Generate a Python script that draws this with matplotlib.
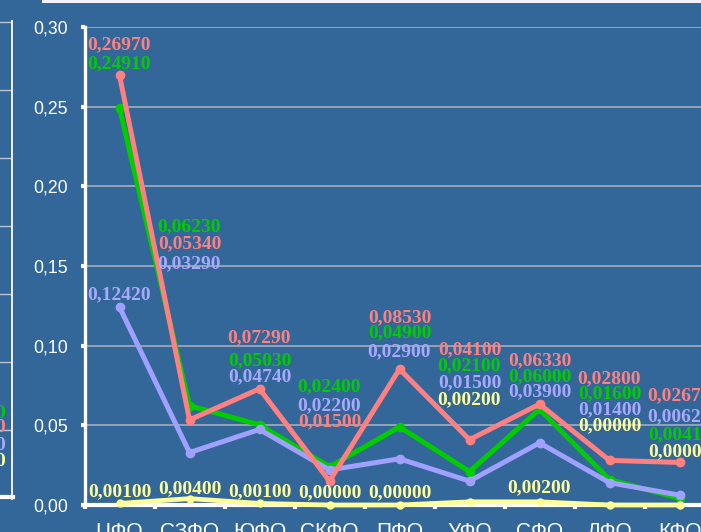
import matplotlib
matplotlib.use("Agg")
import matplotlib.pyplot as plt
from matplotlib.lines import Line2D
from matplotlib.patches import Rectangle
from matplotlib.ticker import FuncFormatter, FixedLocator


REGIONS = ["ЦФО", "СЗФО", "ЮФО", "СКФО", "ПФО", "УФО", "СФО", "ДФО", "КФО"]

RED = [0.2697, 0.0534, 0.0729, 0.0150, 0.0853, 0.0410, 0.0633, 0.0280, 0.0267]
GREEN = [0.2491, 0.0623, 0.0503, 0.0240, 0.0490, 0.0210, 0.0600, 0.0160, 0.0041]
LAVENDER = [0.1242, 0.0329, 0.0474, 0.0220, 0.0290, 0.0150, 0.0390, 0.0140, 0.0062]
YELLOW = [0.0010, 0.0040, 0.0010, 0.0000, 0.0000, 0.0020, 0.0020, 0.0000, 0.0000]

# Label heights (data units) so the value stacks don't overlap
RED_LABEL_Y = [0.2886, 0.1637, 0.1048, 0.0521, 0.1173, 0.0972, 0.0903, 0.0790, 0.0684]
GREEN_LABEL_Y = [0.2767, 0.1744, 0.0903, 0.0740, 0.1079, 0.0872, 0.0803, 0.0696, 0.0439]
LAVENDER_LABEL_Y = [0.1317, 0.1512, 0.0803, 0.0621, 0.0960, 0.0765, 0.0709, 0.0596, 0.0552]
YELLOW_LABEL_Y = [0.0082, 0.0100, 0.0082, 0.0075, 0.0075, 0.0659, 0.0107, 0.0496, 0.0332]

BG = "#336699"
W, H = 701, 532

SERIES = [
    # values, label heights, line colour, text colour, line width, marker size, z
    (GREEN, GREEN_LABEL_Y, "#00cc00", "#00cc00", 3.6, 6, 3),
    (LAVENDER, LAVENDER_LABEL_Y, "#a0a0ff", "#a8a8ff", 3.6, 6, 4),
    (RED, RED_LABEL_Y, "#ff8080", "#ff8080", 3.6, 6, 5),
    (YELLOW, YELLOW_LABEL_Y, "#ffff99", "#ffff99", 3.4, 5, 6),
]


def px(x, y):
    """Pixel position (from top-left) to figure fraction."""
    return x / W, 1 - y / H


def comma(v, digits):
    return f"{v:.{digits}f}".replace(".", ",")


def draw_left_remnant(fig):
    """Edge of the neighbouring chart on the left."""
    for y in (22, 90, 158, 226, 294, 362, 430):
        x0, y0 = px(0, y)
        x1, _ = px(11, y)
        fig.add_artist(Line2D([x0, x1], [y0, y0], color="#b8c4d4", lw=1.0))
    xa, ya = px(12, 21)
    _, yb = px(12, 499)
    fig.add_artist(Line2D([xa, xa], [ya, yb], color="white", lw=1.3))
    x0, yb = px(0, 497)
    x1, _ = px(13, 497)
    fig.add_artist(Line2D([x0, x1], [yb, yb], color="white", lw=3.0))
    for y, c in ((413, "#00cc00"), (428, "#ff8080"), (445, "#a8a8ff"), (461, "#ffff99")):
        fig.text(*px(5, y), "0", color=c, ha="right", va="center",
                 family="Liberation Serif", weight="bold", fontsize=14)


def main():
    fig = plt.figure(figsize=(W / 100, H / 100), dpi=100, facecolor=BG)

    # White strip along the top edge
    fig.add_artist(Rectangle(px(42, 3), (W - 42) / W, 3 / H,
                             transform=fig.transFigure, color="#f2f2ff", lw=0))
    draw_left_remnant(fig)

    left, bottom = px(84.5, 505)
    ax = fig.add_axes([left, bottom, 630 / W, 478 / H])
    ax.set_facecolor(BG)
    ax.set_xlim(-0.5, len(REGIONS) - 0.5)
    ax.set_ylim(0, 0.30)

    ax.set_yticks([0.0, 0.05, 0.10, 0.15, 0.20, 0.25, 0.30])
    ax.yaxis.set_major_formatter(FuncFormatter(lambda v, _: comma(v, 2)))
    ax.grid(axis="y", color="#a4adba", lw=1.2)
    ax.set_axisbelow(True)

    # Category boundaries get the tick marks, centres get the names
    xs = list(range(len(REGIONS)))
    ax.xaxis.set_major_locator(FixedLocator([i - 0.5 for i in range(len(REGIONS) + 1)]))
    ax.xaxis.set_major_formatter(FuncFormatter(lambda v, _: ""))
    ax.xaxis.set_minor_locator(FixedLocator(xs))
    ax.set_xticklabels(REGIONS, minor=True)

    for side in ("top", "right"):
        ax.spines[side].set_visible(False)
    ax.spines["left"].set_color("white")
    ax.spines["left"].set_linewidth(2.4)
    ax.spines["bottom"].set_color("white")
    ax.spines["bottom"].set_linewidth(3.0)

    ax.tick_params(axis="y", colors="white", length=3, width=3, pad=9,
                   labelsize=12.7, labelfontfamily="Liberation Sans")
    ax.tick_params(axis="x", which="major", colors="white", length=3, width=3)
    ax.tick_params(axis="x", which="minor", colors="white", length=0, pad=12.5,
                   labelsize=15, labelfontfamily="Liberation Sans")

    for values, label_y, line_c, text_c, lw, ms, z in SERIES:
        ax.plot(xs, values, color=line_c, lw=lw, marker="o", ms=ms,
                zorder=z, clip_on=False, solid_capstyle="round")
        for x, v, ly in zip(xs, values, label_y):
            ax.text(x, ly, comma(v, 5), color=text_c, ha="center", va="center",
                    family="Liberation Serif", weight="bold", fontsize=14,
                    zorder=10)

    fig.savefig("out.png", dpi=100, facecolor=BG)


if __name__ == "__main__":
    main()
